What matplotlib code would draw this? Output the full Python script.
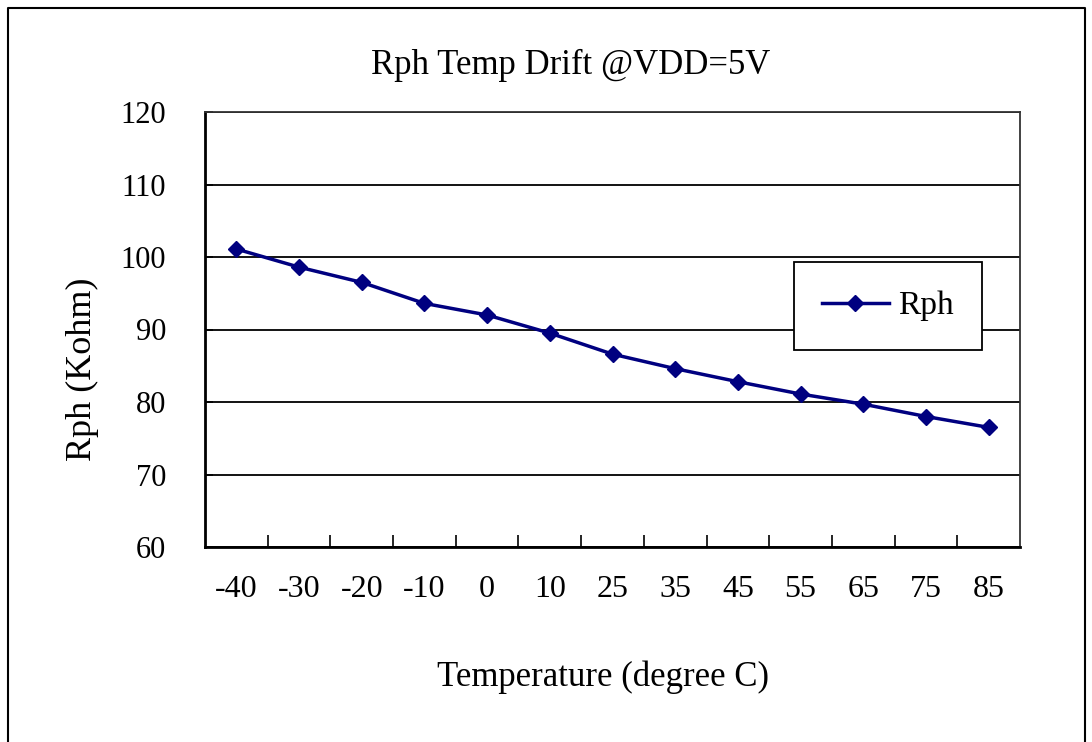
import matplotlib
matplotlib.use("Agg")
import matplotlib.pyplot as plt
from matplotlib.lines import Line2D

# ===========================
# DATA
# ===========================
TEMPS = ["-40", "-30", "-20", "-10", "0", "10", "25", "35", "45", "55", "65", "75", "85"]
RPH = [101.1, 98.6, 96.5, 93.6, 92.0, 89.5, 86.6, 84.6, 82.8, 81.1, 79.7, 78.0, 76.5]
Y_TICKS = [60, 70, 80, 90, 100, 110, 120]

NAVY = "#000080"
FONT = "Liberation Serif"


def main():
    plt.rcParams['font.family'] = [FONT, 'DejaVu Serif']

    fig = plt.figure(figsize=(10.92, 7.42), dpi=100)
    ax = fig.add_axes([205 / 1092, 1 - 547 / 742, 815 / 1092, 435 / 742])

    x = list(range(len(TEMPS)))
    ax.plot(x, RPH, color=NAVY, linewidth=2.5, marker="D", markersize=8,
            markerfacecolor=NAVY, markeredgecolor=NAVY, label="Rph", zorder=3)

    ax.set_xlim(-0.5, len(TEMPS) - 0.5)
    ax.set_ylim(60, 120)
    ax.set_yticks(Y_TICKS)
    ax.set_yticklabels([str(v) for v in Y_TICKS], fontsize=22)
    ax.set_xticks(x)
    ax.set_xticklabels(TEMPS, fontsize=23)
    ax.set_xticks([i + 0.5 for i in x[:-1]], minor=True)

    # ticks between categories, pointing in
    ax.tick_params(axis="x", which="major", length=0, pad=20)
    ax.tick_params(axis="x", which="minor", direction="in", length=9, width=1.2)
    ax.tick_params(axis="y", which="major", direction="in", length=6, width=1.2, pad=28)

    ax.grid(True, axis="y", color="black", linewidth=1.3)
    for side in ["left", "bottom"]:
        ax.spines[side].set_linewidth(2.0)
    for side in ["top", "right"]:
        ax.spines[side].set_linewidth(1.3)
        ax.spines[side].set_color("#333333")

    # axis titles placed like the original chart (not centred on the plot area)
    fig.text(82 / 1092, 1 - 369 / 742, "Rph (Kohm)", fontsize=26, rotation=90,
             ha="center", va="center")
    fig.text(603 / 1092, 1 - 677 / 742, "Temperature (degree C)", fontsize=25,
             ha="center", va="center")
    fig.text(571 / 1092, 1 - 65 / 742, "Rph Temp Drift @VDD=5V", fontsize=25,
             ha="center", va="center")

    leg = ax.legend(loc="center", bbox_to_anchor=(888 / 1092, 1 - 306 / 742),
                    bbox_transform=fig.transFigure, fontsize=24, fancybox=False,
                    edgecolor="black", framealpha=1, handlelength=2.0,
                    borderpad=0.85, handletextpad=0.3)
    leg.get_frame().set_linewidth(1.3)

    # outer chart border
    xs = [8 / 1092, 8 / 1092, 1085 / 1092, 1085 / 1092]
    ys = [0.0, 1 - 8 / 742, 1 - 8 / 742, 0.0]
    fig.add_artist(Line2D(xs, ys, color="black", linewidth=1.5, transform=fig.transFigure))

    fig.savefig("out.png", dpi=100, facecolor="white")


if __name__ == "__main__":
    main()
